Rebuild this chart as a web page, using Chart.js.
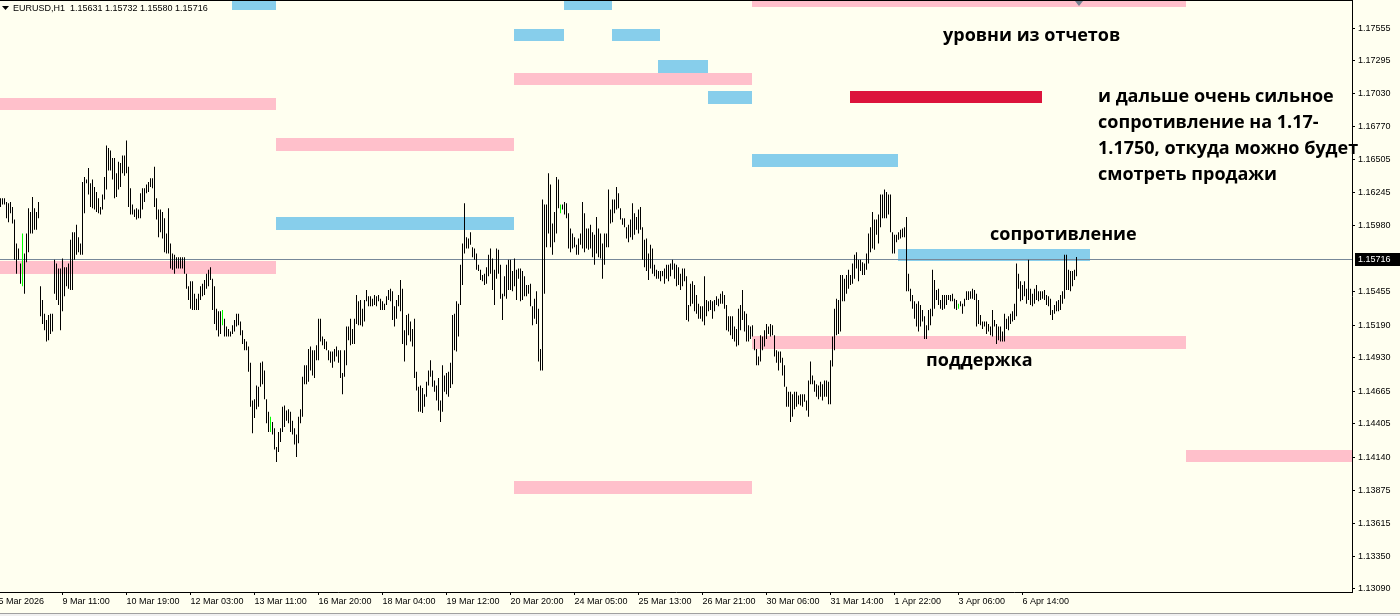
<!DOCTYPE html>
<html>
<head>
<meta charset="utf-8">
<script src="https://cdn.jsdelivr.net/npm/chart.js@4.4.1/dist/chart.umd.min.js"></script>
<style>
    html, body { margin: 0; padding: 0; background: #fffff0; overflow: hidden; }
    #wrap { width: 1400px; height: 616px; }
</style>
</head>
<body>
<div id="wrap"><canvas id="chart" width="1400" height="616"></canvas></div>
<script>
// EURUSD H1 bars (high / low per bar)
const highs = [
    1.1620,1.1620,1.1620,1.1617,1.1616,1.1617,1.1613,1.1603,1.1584,1.1580,1.1568,1.1592,1.1576,1.1592,1.1612,1.1609,1.1621,1.1612,1.1609,1.1617,
    1.1550,1.1539,1.1528,1.1523,1.1527,1.1528,1.1528,1.1571,1.1568,1.1564,1.1564,1.1572,1.1565,1.1565,1.1568,1.1587,1.1593,1.1593,1.1599,1.1589,
    1.1584,1.1633,1.1637,1.1635,1.1644,1.1632,1.1635,1.1629,1.1625,1.1620,1.1613,1.1623,1.1637,1.1662,1.1660,1.1658,1.1652,1.1652,1.1640,1.1649,
    1.1648,1.1654,1.1654,1.1666,1.1645,1.1628,1.1615,1.1611,1.1612,1.1611,1.1624,1.1628,1.1628,1.1631,1.1633,1.1636,1.1636,1.1645,1.1620,1.1611,
    1.1611,1.1609,1.1604,1.1592,1.1612,1.1584,1.1576,1.1575,1.1573,1.1573,1.1573,1.1573,1.1573,1.1560,1.1550,1.1554,1.1554,1.1544,1.1540,1.1544,
    1.1550,1.1552,1.1555,1.1560,1.1563,1.1565,1.1556,1.1550,1.1532,1.1530,1.1530,1.1531,1.1524,1.1518,1.1516,1.1514,1.1519,1.1523,1.1528,1.1528,
    1.1522,1.1515,1.1508,1.1506,1.1502,1.1489,1.1459,1.1460,1.1471,1.1470,1.1489,1.1490,1.1483,1.1460,1.1450,1.1446,1.1442,1.1437,1.1422,1.1434,
    1.1437,1.1454,1.1455,1.1451,1.1452,1.1450,1.1443,1.1437,1.1432,1.1446,1.1452,1.1478,1.1487,1.1487,1.1500,1.1502,1.1499,1.1499,1.1503,1.1524,
    1.1524,1.1510,1.1508,1.1506,1.1499,1.1498,1.1498,1.1500,1.1502,1.1499,1.1499,1.1481,1.1499,1.1518,1.1518,1.1524,1.1516,1.1524,1.1543,1.1538,
    1.1539,1.1532,1.1539,1.1547,1.1542,1.1542,1.1540,1.1543,1.1542,1.1543,1.1540,1.1538,1.1536,1.1542,1.1547,1.1548,1.1546,1.1534,1.1539,1.1543,
    1.1555,1.1548,1.1515,1.1527,1.1528,1.1522,1.1516,1.1524,1.1482,1.1470,1.1471,1.1469,1.1464,1.1474,1.1483,1.1491,1.1483,1.1475,1.1471,1.1477,
    1.1459,1.1487,1.1479,1.1481,1.1482,1.1489,1.1527,1.1528,1.1538,1.1536,1.1567,1.1584,1.1616,1.1589,1.1588,1.1593,1.1581,1.1580,1.1576,1.1567,
    1.1563,1.1559,1.1560,1.1565,1.1575,1.1580,1.1572,1.1563,1.1580,1.1579,1.1567,1.1544,1.1558,1.1567,1.1571,1.1571,1.1562,1.1572,1.1563,1.1564,
    1.1564,1.1562,1.1558,1.1551,1.1551,1.1552,1.1534,1.1540,1.1546,1.1532,1.1500,1.1619,1.1615,1.1615,1.1640,1.1631,1.1600,1.1609,1.1637,1.1635,
    1.1615,1.1615,1.1617,1.1616,1.1608,1.1596,1.1592,1.1589,1.1583,1.1588,1.1592,1.1617,1.1608,1.1596,1.1596,1.1599,1.1593,1.1591,1.1605,1.1596,
    1.1592,1.1584,1.1592,1.1592,1.1627,1.1611,1.1619,1.1619,1.1629,1.1624,1.1612,1.1604,1.1604,1.1597,1.1599,1.1603,1.1616,1.1608,1.1605,1.1611,
    1.1613,1.1597,1.1587,1.1588,1.1576,1.1583,1.1580,1.1567,1.1563,1.1562,1.1562,1.1562,1.1564,1.1567,1.1567,1.1568,1.1571,1.1568,1.1567,1.1565,
    1.1560,1.1564,1.1564,1.1558,1.1535,1.1552,1.1554,1.1551,1.1543,1.1536,1.1534,1.1534,1.1558,1.1539,1.1538,1.1539,1.1538,1.1539,1.1542,1.1540,
    1.1544,1.1546,1.1543,1.1535,1.1526,1.1526,1.1526,1.1518,1.1516,1.1532,1.1535,1.1547,1.1530,1.1528,1.1519,1.1518,1.1519,1.1508,1.1500,1.1494,
    1.1511,1.1510,1.1515,1.1520,1.1518,1.1520,1.1519,1.1511,1.1499,1.1498,1.1498,1.1493,1.1487,1.1470,1.1466,1.1466,1.1464,1.1466,1.1466,1.1463,
    1.1464,1.1464,1.1464,1.1459,1.1475,1.1490,1.1479,1.1475,1.1472,1.1471,1.1474,1.1472,1.1475,1.1475,1.1474,1.1491,1.1510,1.1532,1.1540,1.1539,
    1.1559,1.1559,1.1556,1.1559,1.1563,1.1559,1.1568,1.1575,1.1577,1.1571,1.1571,1.1569,1.1568,1.1576,1.1592,1.1597,1.1609,1.1603,1.1603,1.1607,
    1.1623,1.1623,1.1627,1.1625,1.1623,1.1623,1.1593,1.1591,1.1591,1.1593,1.1595,1.1596,1.1597,1.1605,1.1560,1.1548,1.1543,1.1538,1.1536,1.1538,
    1.1535,1.1531,1.1526,1.1519,1.1531,1.1532,1.1563,1.1555,1.1547,1.1548,1.1539,1.1543,1.1543,1.1543,1.1543,1.1543,1.1544,1.1540,1.1539,1.1536,
    1.1538,1.1536,1.1540,1.1546,1.1546,1.1546,1.1548,1.1547,1.1544,1.1539,1.1527,1.1522,1.1522,1.1522,1.1520,1.1518,1.1531,1.1523,1.1520,1.1518,
    1.1518,1.1514,1.1528,1.1524,1.1526,1.1528,1.1530,1.1536,1.1568,1.1560,1.1554,1.1551,1.1554,1.1548,1.1571,1.1548,1.1544,1.1548,1.1551,1.1546,
    1.1546,1.1546,1.1547,1.1543,1.1542,1.1540,1.1531,1.1535,1.1538,1.1539,1.1543,1.1546,1.1575,1.1575,1.1563,1.1562,1.1562,1.1563,1.15732
];
const lows = [
    1.1613,1.1615,1.1615,1.1604,1.1601,1.1608,1.1600,1.1571,1.1560,1.1571,1.1552,1.1550,1.1544,1.1569,1.1577,1.1592,1.1592,1.1595,1.1595,1.1604,
    1.1526,1.1520,1.1515,1.1506,1.1507,1.1512,1.1514,1.1544,1.1539,1.1535,1.1515,1.1530,1.1542,1.1550,1.1548,1.1547,1.1547,1.1571,1.1575,1.1577,
    1.1575,1.1575,1.1608,1.1632,1.1623,1.1613,1.1612,1.1611,1.1609,1.1608,1.1607,1.1611,1.1619,1.1627,1.1642,1.1642,1.1635,1.1620,1.1621,1.1627,
    1.1629,1.1640,1.1638,1.1640,1.1613,1.1607,1.1607,1.1605,1.1603,1.1604,1.1604,1.1611,1.1617,1.1624,1.1625,1.1629,1.1628,1.1613,1.1603,1.1589,
    1.1593,1.1588,1.1577,1.1576,1.1576,1.1564,1.1563,1.1560,1.1564,1.1564,1.1564,1.1564,1.1560,1.1548,1.1539,1.1532,1.1531,1.1531,1.1531,1.1531,
    1.1539,1.1542,1.1543,1.1548,1.1550,1.1555,1.1531,1.1520,1.1515,1.1510,1.1512,1.1519,1.1510,1.1510,1.1510,1.1510,1.1512,1.1514,1.1518,1.1519,
    1.1511,1.1504,1.1499,1.1499,1.1482,1.1454,1.1433,1.1445,1.1452,1.1454,1.1470,1.1472,1.1460,1.1441,1.1434,1.1434,1.1432,1.1420,1.1410,1.1418,
    1.1426,1.1434,1.1438,1.1443,1.1441,1.1434,1.1432,1.1424,1.1414,1.1425,1.1441,1.1446,1.1472,1.1472,1.1474,1.1483,1.1479,1.1477,1.1491,1.1491,
    1.1506,1.1503,1.1500,1.1499,1.1491,1.1489,1.1485,1.1490,1.1494,1.1489,1.1477,1.1464,1.1478,1.1487,1.1507,1.1503,1.1504,1.1504,1.1520,1.1519,
    1.1519,1.1518,1.1522,1.1538,1.1534,1.1534,1.1534,1.1535,1.1534,1.1538,1.1531,1.1531,1.1531,1.1535,1.1539,1.1538,1.1523,1.1518,1.1524,1.1534,
    1.1530,1.1504,1.1490,1.1503,1.1511,1.1506,1.1502,1.1477,1.1467,1.1450,1.1450,1.1449,1.1454,1.1462,1.1471,1.1478,1.1470,1.1466,1.1459,1.1451,
    1.1442,1.1450,1.1466,1.1464,1.1462,1.1469,1.1472,1.1499,1.1498,1.1510,1.1535,1.1551,1.1576,1.1580,1.1580,1.1583,1.1573,1.1571,1.1563,1.1562,
    1.1555,1.1554,1.1551,1.1552,1.1558,1.1560,1.1547,1.1535,1.1556,1.1560,1.1540,1.1523,1.1542,1.1540,1.1547,1.1547,1.1546,1.1550,1.1539,1.1556,
    1.1538,1.1539,1.1542,1.1542,1.1544,1.1534,1.1519,1.1524,1.1520,1.1490,1.1483,1.1483,1.1544,1.1581,1.1592,1.1581,1.1575,1.1585,1.1592,1.1612,
    1.1608,1.1611,1.1607,1.1604,1.1580,1.1577,1.1580,1.1581,1.1575,1.1575,1.1583,1.1580,1.1577,1.1580,1.1579,1.1580,1.1573,1.1567,1.1576,1.1573,
    1.1572,1.1556,1.1567,1.1581,1.1581,1.1600,1.1601,1.1608,1.1611,1.1612,1.1603,1.1599,1.1597,1.1588,1.1585,1.1589,1.1587,1.1591,1.1595,1.1592,
    1.1595,1.1571,1.1565,1.1562,1.1555,1.1564,1.1560,1.1558,1.1556,1.1556,1.1554,1.1558,1.1552,1.1556,1.1554,1.1558,1.1563,1.1556,1.1550,1.1551,
    1.1547,1.1550,1.1554,1.1523,1.1522,1.1534,1.1536,1.1530,1.1528,1.1524,1.1524,1.1522,1.1519,1.1526,1.1530,1.1531,1.1524,1.1530,1.1535,1.1534,
    1.1536,1.1536,1.1532,1.1515,1.1514,1.1511,1.1508,1.1506,1.1502,1.1503,1.1515,1.1523,1.1514,1.1506,1.1506,1.1508,1.1510,1.1499,1.1487,1.1487,
    1.1490,1.1499,1.1502,1.1508,1.1512,1.1510,1.1511,1.1494,1.1489,1.1483,1.1489,1.1479,1.1470,1.1454,1.1454,1.1442,1.1446,1.1452,1.1454,1.1456,
    1.1455,1.1454,1.1458,1.1451,1.1446,1.1472,1.1472,1.1466,1.1462,1.1460,1.1462,1.1459,1.1462,1.1462,1.1456,1.1456,1.1486,1.1499,1.1511,1.1512,
    1.1514,1.1538,1.1538,1.1544,1.1548,1.1551,1.1552,1.1556,1.1564,1.1554,1.1562,1.1559,1.1559,1.1563,1.1568,1.1577,1.1580,1.1579,1.1591,1.1584,
    1.1597,1.1604,1.1604,1.1604,1.1607,1.1593,1.1576,1.1576,1.1585,1.1587,1.1588,1.1589,1.1589,1.1546,1.1546,1.1538,1.1532,1.1524,1.1518,1.1514,
    1.1518,1.1522,1.1508,1.1508,1.1515,1.1519,1.1526,1.1532,1.1539,1.1535,1.1532,1.1531,1.1532,1.1535,1.1539,1.1538,1.1538,1.1532,1.1531,1.1532,
    1.1534,1.1528,1.1534,1.1539,1.1539,1.1540,1.1540,1.1539,1.1518,1.1520,1.1519,1.1516,1.1518,1.1512,1.1514,1.1511,1.1510,1.1518,1.1504,1.1507,
    1.1506,1.1506,1.1506,1.1516,1.1515,1.1520,1.1522,1.1523,1.1526,1.1548,1.1538,1.1539,1.1542,1.1536,1.1539,1.1535,1.1534,1.1536,1.1539,1.1538,
    1.1539,1.1540,1.1539,1.1535,1.1534,1.1527,1.1523,1.1528,1.1530,1.1530,1.1531,1.1536,1.1540,1.1547,1.1547,1.1546,1.1550,1.1555,1.15580
];
// bars with open == close are drawn in the line colour (lime) by the terminal
const dojiBars = [11, 111, 135, 280, 479];

// last bar
const lastOpen = 1.15631;
const lastClose = 1.15716;

const priceTicks = [1.17555, 1.17295, 1.17030, 1.16770, 1.16505, 1.16245, 1.15980, 1.15455,
    1.15190, 1.14930, 1.14665, 1.14405, 1.14140, 1.13875, 1.13615, 1.13350, 1.13090];

const timeLabels = ['5 Mar 2026', '9 Mar 11:00', '10 Mar 19:00', '12 Mar 03:00', '13 Mar 11:00',
    '16 Mar 20:00', '18 Mar 04:00', '19 Mar 12:00', '20 Mar 20:00', '24 Mar 05:00', '25 Mar 13:00',
    '26 Mar 21:00', '30 Mar 06:00', '31 Mar 14:00', '1 Apr 22:00', '3 Apr 06:00', '6 Apr 14:00'];
const labelStep = 32;   // bars between time labels
const firstLabelBar = -1;
const totalSlots = 676; // bar slots across the window (incl. right shift)

// rectangles: from bar, to bar, top price, bottom price, kind
const zones = [
    [116, 138, 1.1780, 1.1770, 'blue'],
    [282, 306, 1.1780, 1.1770, 'blue'],
    [376, 593, 1.1782, 1.1772, 'pink'],
    [257, 282, 1.1755, 1.1745, 'blue'],
    [306, 330, 1.1755, 1.1745, 'blue'],
    [329, 354, 1.1730, 1.1720, 'blue'],
    [257, 376, 1.1720, 1.1710, 'pink'],
    [354, 376, 1.1705, 1.1695, 'blue'],
    [425, 521, 1.1705, 1.1696, 'red'],
    [-1, 138, 1.1700, 1.1690, 'pink'],
    [138, 257, 1.1668, 1.1658, 'pink'],
    [376, 449, 1.1655, 1.1645, 'blue'],
    [138, 257, 1.1605, 1.1595, 'blue'],
    [-1, 138, 1.1570, 1.1560, 'pink'],
    [449, 545, 1.1580, 1.1570, 'blue'],
    [376, 593, 1.1510, 1.1500, 'pink'],
    [593, 676, 1.1420, 1.1410, 'pink'],
    [257, 376, 1.1395, 1.1385, 'pink']
];
const zoneColors = { pink: '#ffc0cb', blue: '#87ceeb', red: '#dc143c' };

// text objects: bar, price (baseline), lines
const notes = [
    [471.5, 1.17452, ['уровни из отчетов']],
    [549, 1.16966, ['и дальше очень сильное', 'сопротивление на 1.17-', '1.1750, откуда можно будет', 'смотреть продажи']],
    [495, 1.15868, ['сопротивление']],
    [463, 1.14865, ['поддержка']]
];

const axisFont = { family: 'Liberation Sans', size: 9 };

const terminalPlugin = {
    id: 'terminal',
    beforeDraw(chart) {
        const c = chart.ctx;
        c.save();
        c.fillStyle = '#fffff0';
        c.fillRect(0, 0, chart.width, chart.height);
        c.fillStyle = '#a0a0a0';
        c.fillRect(0, 613, chart.width, 1);
        c.fillStyle = '#f0f0f0';
        c.fillRect(0, 614, chart.width, 2);
        c.restore();
    },
    beforeDatasetsDraw(chart) {
        const { ctx: c, chartArea: a, scales: { x, y } } = chart;
        c.save();
        c.beginPath();
        c.rect(a.left, a.top, a.right - a.left, a.bottom - a.top);
        c.clip();
        zones.forEach(z => {
            const x1 = Math.round(x.getPixelForValue(z[0]) - 0.5);
            const x2 = Math.round(x.getPixelForValue(z[1]) - 0.5);
            const y1 = Math.round(y.getPixelForValue(z[2]));
            const y2 = Math.round(y.getPixelForValue(z[3]));
            c.fillStyle = zoneColors[z[4]];
            c.fillRect(x1, y1, x2 - x1, y2 - y1);
        });
        // bid line
        const yc = Math.round(y.getPixelForValue(lastClose)) + 0.5;
        c.strokeStyle = '#778899';
        c.lineWidth = 1;
        c.beginPath();
        c.moveTo(a.left, yc);
        c.lineTo(a.right, yc);
        c.stroke();
        c.restore();
    },
    afterDraw(chart) {
        const { ctx: c, chartArea: a, scales: { x, y } } = chart;
        c.save();

        // top frame line
        c.fillStyle = '#000';
        c.fillRect(0, 0, a.right + 1, 1);

        // selected-object marker on the top rectangle
        const mx = x.getPixelForValue(539.5) - 0.5;
        c.fillStyle = '#708090';
        c.beginPath();
        c.moveTo(mx - 4, 1);
        c.lineTo(mx + 4, 1);
        c.lineTo(mx, 6);
        c.closePath();
        c.fill();

        // text objects
        c.fillStyle = '#000';
        c.font = 'bold 18px "Open Sans"';
        c.textBaseline = 'alphabetic';
        c.textAlign = 'left';
        notes.forEach(n => {
            const tx = x.getPixelForValue(n[0]) - 0.5;
            const ty = y.getPixelForValue(n[1]);
            n[2].forEach((line, k) => c.fillText(line, tx, ty + k * 26));
        });

        // bid price label
        const yc = Math.round(y.getPixelForValue(lastClose));
        c.fillStyle = '#000';
        c.fillRect(a.right + 3, yc - 6, chart.width - a.right - 3, 13);
        c.fillStyle = '#fff';
        c.font = '9px "Liberation Sans"';
        c.textBaseline = 'middle';
        c.fillText(lastClose.toFixed(5), a.right + 6, yc + 1);

        // header
        c.fillStyle = '#000';
        c.beginPath();
        c.moveTo(2, 6);
        c.lineTo(9, 6);
        c.lineTo(5.5, 10);
        c.closePath();
        c.fill();
        c.font = '9px "Liberation Sans"';
        c.textBaseline = 'middle';
        const last = highs.length - 1;
        const header = 'EURUSD,H1  ' + lastOpen.toFixed(5) + ' ' + highs[last].toFixed(5) + ' ' +
            lows[last].toFixed(5) + ' ' + lastClose.toFixed(5);
        c.fillText(header, 13, 9);
        c.restore();
    }
};

new Chart(document.getElementById('chart'), {
    type: 'bar',
    data: {
        datasets: [{
            data: highs.map((h, i) => ({ x: i, y: [lows[i], h] })),
            backgroundColor: highs.map((h, i) => dojiBars.includes(i) ? '#00ff00' : '#000000'),
            borderWidth: 0,
            barThickness: 1,
            inflateAmount: 0,
            grouped: false
        }]
    },
    options: {
        responsive: false,
        animation: false,
        events: [],
        layout: { padding: 0 },
        plugins: { legend: { display: false }, tooltip: { enabled: false } },
        scales: {
            x: {
                type: 'linear',
                offset: false,
                min: -0.25,
                max: totalSlots - 0.25,
                afterBuildTicks: s => {
                    s.ticks = timeLabels.map((t, k) => ({ value: firstLabelBar + k * labelStep }));
                },
                afterFit: s => {
                    s.height = 24;
                    s.paddingLeft = 0;
                    s.paddingRight = 0;
                },
                ticks: {
                    autoSkip: false,
                    maxRotation: 0,
                    minRotation: 0,
                    align: 'start',
                    padding: 1,
                    color: '#000',
                    font: axisFont,
                    callback: (v, idx) => timeLabels[idx]
                },
                grid: { offset: false, drawOnChartArea: false, drawTicks: true, tickLength: 3, color: '#000' },
                border: { display: true, color: '#000', width: 1 }
            },
            y: {
                position: 'right',
                min: 1.13066,
                max: 1.17778,
                afterBuildTicks: s => {
                    s.ticks = priceTicks.map(v => ({ value: v }));
                },
                afterFit: s => {
                    s.width = 48;
                    s.paddingTop = 0;
                    s.paddingBottom = 0;
                },
                ticks: {
                    autoSkip: false,
                    padding: 3,
                    color: '#000',
                    font: axisFont,
                    callback: v => v.toFixed(5)
                },
                grid: { drawOnChartArea: false, drawTicks: true, tickLength: 3, color: '#000' },
                border: { display: true, color: '#000', width: 1 }
            }
        }
    },
    plugins: [terminalPlugin]
});
</script>
</body>
</html>
